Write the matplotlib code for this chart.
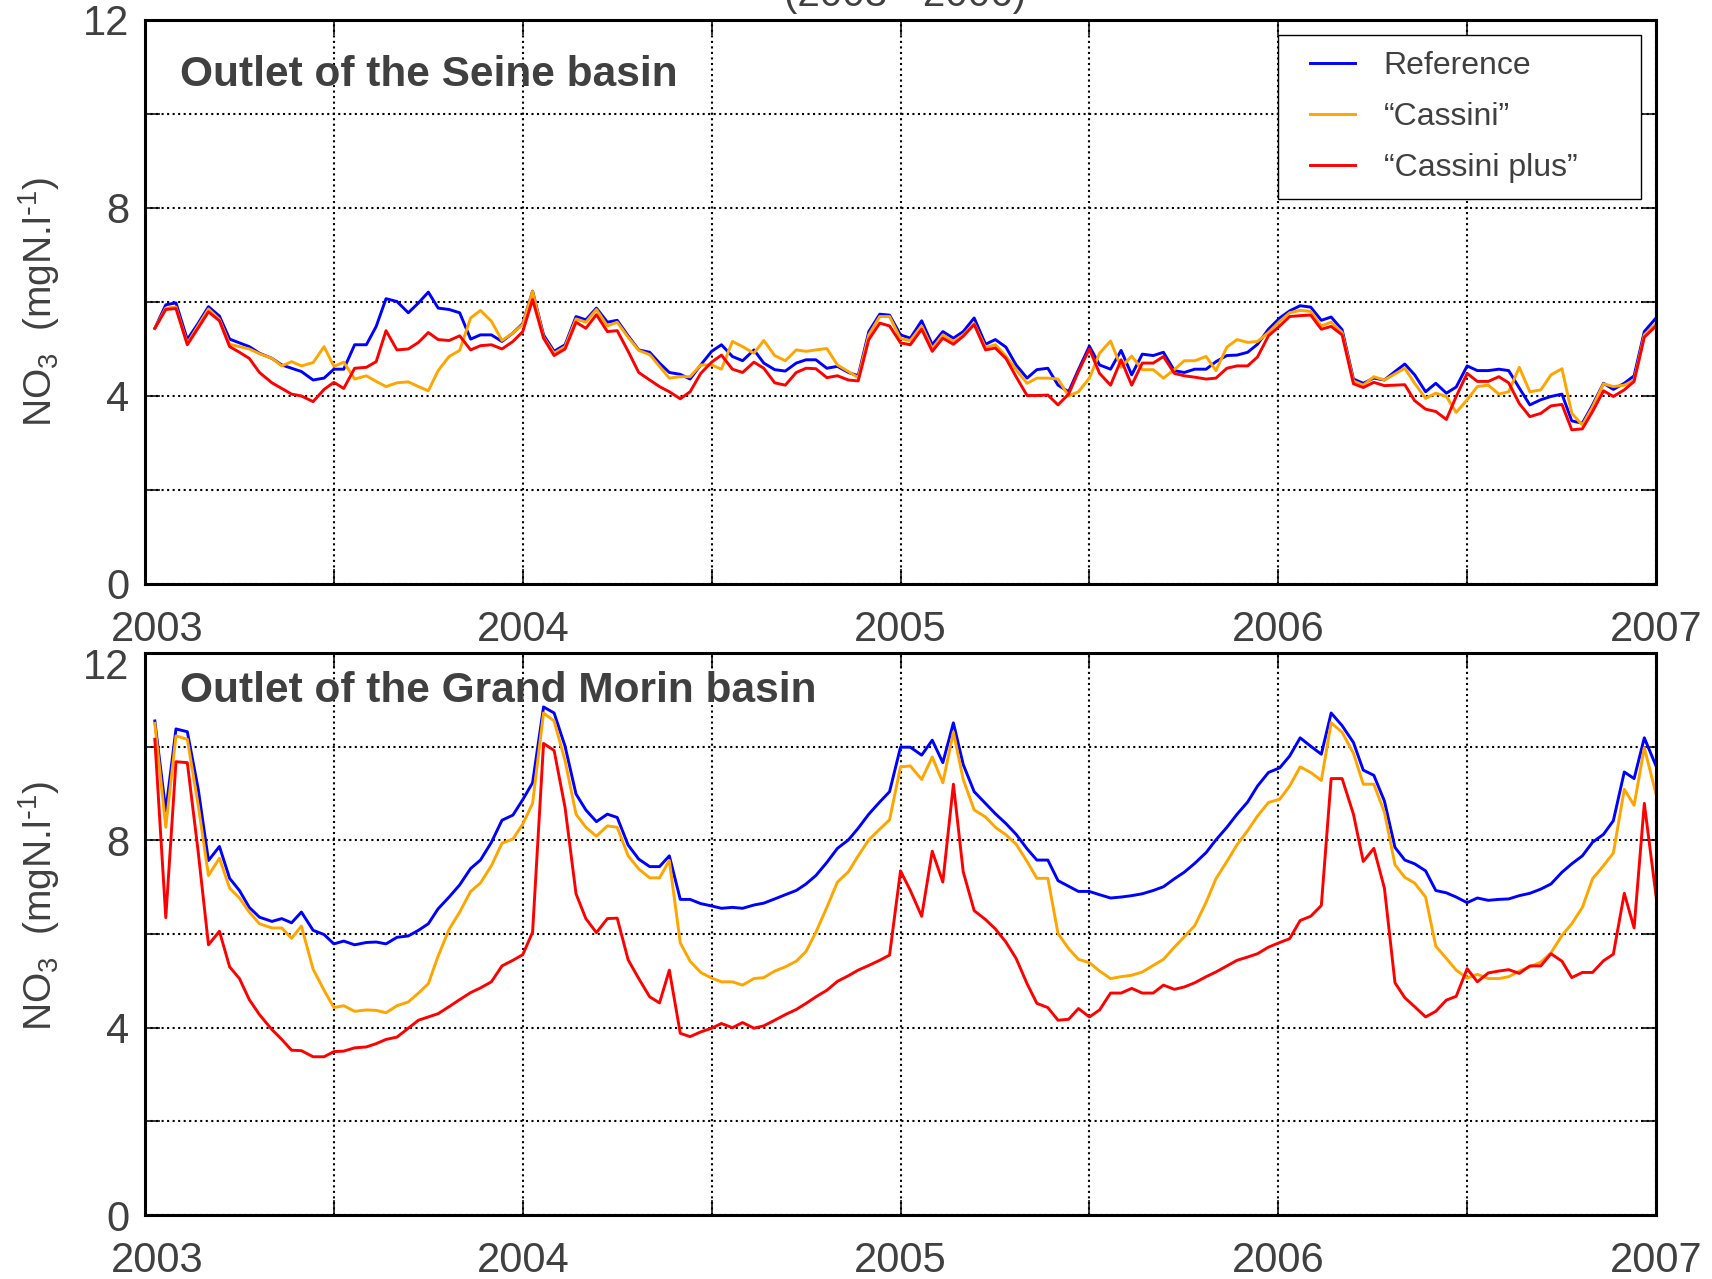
import numpy as np
import matplotlib
matplotlib.use("Agg")
import matplotlib.pyplot as plt
from matplotlib.ticker import MultipleLocator, FuncFormatter

plt.rcParams['font.family'] = ['Liberation Sans', 'DejaVu Sans']
plt.rcParams['mathtext.default'] = 'regular'

# decimal years of the simulated values (about one value every 10 days)
years = [
    2003.026, 2003.055, 2003.082, 2003.112, 2003.141, 2003.168, 2003.197, 2003.224, 2003.250, 2003.276,
    2003.303, 2003.336, 2003.362, 2003.388, 2003.414, 2003.445, 2003.474, 2003.500, 2003.526, 2003.555,
    2003.586, 2003.612, 2003.638, 2003.667, 2003.697, 2003.724, 2003.750, 2003.776, 2003.805, 2003.833,
    2003.862, 2003.888, 2003.917, 2003.945, 2003.974, 2004.000, 2004.026, 2004.055, 2004.083, 2004.112,
    2004.141, 2004.167, 2004.195, 2004.224, 2004.250, 2004.279, 2004.307, 2004.336, 2004.362, 2004.388,
    2004.417, 2004.443, 2004.471, 2004.500, 2004.526, 2004.555, 2004.582, 2004.612, 2004.638, 2004.667,
    2004.695, 2004.724, 2004.750, 2004.776, 2004.805, 2004.833, 2004.862, 2004.888, 2004.916, 2004.945,
    2004.971, 2005.000,
    2005.026, 2005.056, 2005.084, 2005.112, 2005.140, 2005.166, 2005.195, 2005.225, 2005.251, 2005.279,
    2005.306, 2005.335, 2005.361, 2005.390, 2005.417, 2005.445, 2005.471, 2005.500, 2005.527, 2005.556,
    2005.584, 2005.612, 2005.640, 2005.669, 2005.696, 2005.725, 2005.751, 2005.779, 2005.809, 2005.835,
    2005.864, 2005.891, 2005.919, 2005.945, 2005.974, 2006.004, 2006.030, 2006.058, 2006.086, 2006.114,
    2006.140, 2006.169, 2006.199, 2006.225, 2006.253, 2006.281, 2006.309, 2006.335, 2006.361, 2006.390,
    2006.417, 2006.445, 2006.471, 2006.500, 2006.527, 2006.556, 2006.584, 2006.610, 2006.638, 2006.666,
    2006.695, 2006.722, 2006.751, 2006.777, 2006.805, 2006.832, 2006.861, 2006.887, 2006.916, 2006.942,
    2006.969, 2007.000,
]

# Outlet of the Seine basin
seine_ref = [
    5.44, 5.94, 5.98, 5.2, 5.55, 5.9, 5.7, 5.21, 5.13, 5.05, 4.91, 4.8, 4.66, 4.59, 4.52, 4.34, 4.38, 4.57, 4.57, 5.09,
    5.09, 5.48, 6.07, 6.01, 5.77, 5.98, 6.21, 5.87, 5.84, 5.77, 5.21, 5.3, 5.3, 5.16, 5.34, 5.54, 6.23, 5.3, 4.95, 5.09,
    5.69, 5.62, 5.87, 5.57, 5.61, 5.28, 4.98, 4.93, 4.7, 4.5, 4.46, 4.36, 4.66, 4.95, 5.09, 4.84, 4.75, 4.98, 4.7, 4.56,
    4.53, 4.7, 4.77, 4.77, 4.59, 4.63, 4.5, 4.43, 5.37, 5.74, 5.72, 5.3,
    5.23, 5.6, 5.09, 5.37, 5.23, 5.37, 5.66, 5.1, 5.2, 5.04, 4.66, 4.38, 4.56, 4.59, 4.23, 4.09, 4.56, 5.06, 4.66, 4.57,
    4.97, 4.45, 4.89, 4.86, 4.93, 4.54, 4.5, 4.57, 4.57, 4.73, 4.86, 4.87, 4.93, 5.1, 5.42, 5.66, 5.81, 5.92, 5.89, 5.61,
    5.68, 5.41, 4.36, 4.27, 4.38, 4.34, 4.52, 4.68, 4.45, 4.09, 4.27, 4.06, 4.19, 4.64, 4.54, 4.54, 4.57, 4.54, 4.17, 3.81,
    3.92, 3.99, 4.04, 3.47, 3.42, 3.81, 4.27, 4.14, 4.27, 4.43, 5.37, 5.66,
]
seine_cassini = [
    5.44, 5.87, 5.89, 5.12, 5.5, 5.85, 5.63, 5.1, 5.05, 5.0, 4.9, 4.8, 4.64, 4.73, 4.64, 4.71, 5.05, 4.63, 4.72, 4.36,
    4.43, 4.31, 4.2, 4.28, 4.3, 4.2, 4.11, 4.54, 4.84, 4.97, 5.66, 5.82, 5.59, 5.18, 5.34, 5.52, 6.23, 5.25, 4.91, 5.05,
    5.64, 5.57, 5.84, 5.49, 5.57, 5.25, 4.97, 4.88, 4.63, 4.38, 4.41, 4.41, 4.66, 4.66, 4.57, 5.16, 5.05, 4.91, 5.18, 4.86,
    4.75, 4.98, 4.95, 4.98, 5.01, 4.66, 4.52, 4.39, 5.3, 5.69, 5.69, 5.22,
    5.18, 5.49, 5.01, 5.3, 5.16, 5.3, 5.54, 5.03, 5.09, 4.85, 4.56, 4.27, 4.38, 4.38, 4.36, 4.0, 4.09, 4.38, 4.91, 5.17,
    4.61, 4.85, 4.56, 4.56, 4.38, 4.56, 4.75, 4.75, 4.84, 4.54, 5.04, 5.2, 5.14, 5.16, 5.35, 5.59, 5.77, 5.82, 5.8, 5.49,
    5.57, 5.35, 4.32, 4.23, 4.41, 4.34, 4.47, 4.59, 4.27, 3.95, 4.06, 3.99, 3.65, 3.92, 4.2, 4.23, 4.04, 4.09, 4.61, 4.09,
    4.13, 4.45, 4.58, 3.63, 3.38, 3.77, 4.26, 4.2, 4.23, 4.34, 5.3, 5.54,
]
seine_plus = [
    5.44, 5.84, 5.86, 5.09, 5.45, 5.79, 5.6, 5.05, 4.93, 4.8, 4.5, 4.28, 4.16, 4.04, 4.0, 3.88, 4.14, 4.29, 4.16, 4.59,
    4.61, 4.73, 5.39, 4.98, 5.0, 5.14, 5.35, 5.2, 5.18, 5.28, 4.98, 5.07, 5.09, 5.0, 5.16, 5.37, 6.05, 5.23, 4.86, 5.0,
    5.57, 5.44, 5.73, 5.37, 5.39, 4.95, 4.5, 4.34, 4.2, 4.09, 3.94, 4.09, 4.48, 4.72, 4.87, 4.57, 4.5, 4.72, 4.59, 4.28,
    4.23, 4.5, 4.59, 4.58, 4.39, 4.43, 4.34, 4.32, 5.2, 5.55, 5.49, 5.13,
    5.09, 5.42, 4.95, 5.23, 5.1, 5.27, 5.52, 4.98, 5.02, 4.8, 4.41, 4.01, 4.01, 4.02, 3.81, 4.04, 4.52, 5.0, 4.48, 4.23,
    4.77, 4.23, 4.7, 4.7, 4.84, 4.48, 4.43, 4.4, 4.36, 4.38, 4.59, 4.64, 4.64, 4.83, 5.28, 5.49, 5.69, 5.71, 5.72, 5.42,
    5.48, 5.3, 4.26, 4.18, 4.29, 4.22, 4.23, 4.24, 3.9, 3.72, 3.67, 3.5, 3.99, 4.48, 4.31, 4.31, 4.41, 4.28, 3.84, 3.56,
    3.63, 3.79, 3.82, 3.28, 3.3, 3.67, 4.11, 3.99, 4.13, 4.31, 5.25, 5.49,
]

# Outlet of the Grand Morin basin
morin_ref = [
    10.55, 8.63, 10.38, 10.32, 9.09, 7.57, 7.87, 7.19, 6.93, 6.57, 6.36, 6.27, 6.33, 6.24, 6.47, 6.08, 5.99, 5.79, 5.85, 5.77,
    5.82, 5.83, 5.79, 5.93, 5.96, 6.08, 6.22, 6.54, 6.79, 7.05, 7.4, 7.58, 7.96, 8.43, 8.54, 8.87, 9.23, 10.85, 10.72, 10.01,
    8.99, 8.65, 8.4, 8.56, 8.49, 7.9, 7.6, 7.44, 7.44, 7.67, 6.74, 6.74, 6.65, 6.6, 6.55, 6.57, 6.55, 6.62, 6.66, 6.75,
    6.84, 6.93, 7.07, 7.25, 7.53, 7.83, 8.01, 8.26, 8.56, 8.82, 9.04, 9.99,
    9.99, 9.82, 10.14, 9.66, 10.51, 9.62, 9.04, 8.79, 8.57, 8.36, 8.13, 7.82, 7.58, 7.58, 7.14, 7.02, 6.91, 6.91, 6.84, 6.77,
    6.79, 6.82, 6.86, 6.93, 7.01, 7.18, 7.32, 7.51, 7.74, 8.01, 8.28, 8.56, 8.82, 9.16, 9.45, 9.55, 9.8, 10.19, 10.01, 9.84,
    10.72, 10.45, 10.09, 9.5, 9.39, 8.84, 7.85, 7.58, 7.5, 7.35, 6.93, 6.88, 6.79, 6.67, 6.77, 6.72, 6.74, 6.75, 6.82, 6.87,
    6.96, 7.07, 7.32, 7.5, 7.67, 7.96, 8.13, 8.42, 9.46, 9.32, 10.19, 9.59,
]
morin_cassini = [
    10.5, 8.28, 10.23, 10.16, 8.74, 7.25, 7.62, 6.98, 6.77, 6.47, 6.22, 6.13, 6.13, 5.91, 6.17, 5.25, 4.8, 4.43, 4.47, 4.35,
    4.38, 4.37, 4.32, 4.47, 4.55, 4.74, 4.94, 5.53, 6.1, 6.47, 6.91, 7.09, 7.46, 7.94, 8.03, 8.35, 8.79, 10.72, 10.55, 9.7,
    8.56, 8.28, 8.09, 8.31, 8.28, 7.67, 7.39, 7.2, 7.2, 7.57, 5.81, 5.42, 5.18, 5.06, 4.98, 4.98, 4.91, 5.05, 5.07, 5.21,
    5.3, 5.42, 5.63, 6.04, 6.57, 7.11, 7.33, 7.67, 8.01, 8.24, 8.44, 9.57,
    9.59, 9.3, 9.78, 9.23, 10.31, 9.3, 8.65, 8.5, 8.28, 8.12, 7.92, 7.55, 7.19, 7.19, 6.01, 5.69, 5.46, 5.39, 5.21, 5.05,
    5.09, 5.12, 5.19, 5.33, 5.46, 5.72, 5.94, 6.18, 6.68, 7.18, 7.55, 7.91, 8.21, 8.52, 8.81, 8.88, 9.16, 9.57, 9.45, 9.28,
    10.51, 10.31, 9.86, 9.2, 9.2, 8.6, 7.48, 7.21, 7.09, 6.79, 5.74, 5.48, 5.23, 5.06, 5.14, 5.05, 5.05, 5.09, 5.21, 5.3,
    5.4, 5.6, 5.97, 6.22, 6.57, 7.18, 7.46, 7.73, 9.09, 8.75, 9.98, 8.99,
]
morin_plus = [
    10.16, 6.35, 9.68, 9.66, 7.74, 5.77, 6.06, 5.3, 5.05, 4.6, 4.28, 3.96, 3.75, 3.52, 3.51, 3.38, 3.38, 3.49, 3.5, 3.57,
    3.59, 3.66, 3.75, 3.8, 3.99, 4.16, 4.23, 4.3, 4.45, 4.6, 4.75, 4.85, 4.98, 5.32, 5.44, 5.56, 6.04, 10.07, 9.92, 8.7,
    6.86, 6.33, 6.03, 6.33, 6.34, 5.45, 5.05, 4.66, 4.53, 5.23, 3.88, 3.81, 3.91, 3.99, 4.09, 4.0, 4.11, 3.99, 4.04, 4.16,
    4.28, 4.39, 4.52, 4.66, 4.8, 4.99, 5.11, 5.23, 5.33, 5.44, 5.55, 7.35,
    6.93, 6.38, 7.77, 7.11, 9.2, 7.33, 6.5, 6.31, 6.11, 5.83, 5.48, 4.94, 4.52, 4.43, 4.16, 4.18, 4.41, 4.23, 4.38, 4.74,
    4.74, 4.84, 4.74, 4.74, 4.91, 4.82, 4.87, 4.96, 5.09, 5.19, 5.32, 5.44, 5.51, 5.58, 5.72, 5.82, 5.9, 6.29, 6.38, 6.61,
    9.32, 9.32, 8.56, 7.55, 7.83, 6.98, 4.96, 4.64, 4.45, 4.23, 4.35, 4.59, 4.67, 5.26, 4.98, 5.17, 5.21, 5.24, 5.16, 5.32,
    5.32, 5.58, 5.42, 5.07, 5.18, 5.18, 5.43, 5.57, 6.87, 6.13, 8.79, 6.82,
]

labels = ["Reference", "\u201cCassini\u201d", "\u201cCassini plus\u201d"]
colors = ["#0000ff", "#ffa500", "#ff0000"]
gray = "#404040"
first_year = 2003
y_top = 12

fig = plt.figure(figsize=(17.12, 12.79), dpi=100)
ax1 = fig.add_axes([0.0847, 0.5434, 0.8826, 0.441])
ax2 = fig.add_axes([0.0847, 0.05, 0.8826, 0.4394])

# title of the whole figure, cut by the upper edge as in the original
fig.text(0.5288, 0.995, "(2003 - 2006)", fontsize=29, color=gray,
         ha="center", va="baseline")


def year_label(v, pos):
    # the first year is written separately, slightly shifted to the right
    if abs(v - round(v)) < 1e-6 and round(v) != first_year:
        return "%d" % round(v)
    return ""


def conc_label(v, pos):
    if abs(v % 4) < 1e-6:
        return "%d" % round(v)
    return ""


def conc_label_low(v, pos):
    # lower panel: the top value is written separately, a bit lower
    if abs(v - y_top) < 1e-6:
        return ""
    return conc_label(v, pos)


panels = [
    (ax1, "Outlet of the Seine basin", 0.903, 0.5, [seine_ref, seine_cassini, seine_plus], conc_label),
    (ax2, "Outlet of the Grand Morin basin", 0.932, 0.55, [morin_ref, morin_cassini, morin_plus], conc_label_low),
]

for ax, title, ty, ly, series, yfmt in panels:
    for vals, c, lab in zip(series, colors, labels):
        ax.plot(years, vals, color=c, linewidth=2.1, label=lab)
    ax.set_xlim(2003, 2007)
    ax.set_ylim(0, y_top)
    ax.xaxis.set_major_locator(MultipleLocator(0.5))
    ax.yaxis.set_major_locator(MultipleLocator(2))
    ax.xaxis.set_major_formatter(FuncFormatter(year_label))
    ax.yaxis.set_major_formatter(FuncFormatter(yfmt))
    ax.grid(True, linestyle=":", color="black", linewidth=1.5)
    ax.tick_params(direction="in", length=11, width=1.1, top=True, right=True,
                   labelsize=30, labelcolor=gray)
    ax.tick_params(axis="x", pad=19)
    ax.tick_params(axis="y", pad=11)
    for sp in ax.spines.values():
        sp.set_linewidth(2.2)
        sp.set_color("black")
    ax.set_ylabel(r"NO$_3$  (mgN.l$^{\text{-}1}$)", fontsize=28, color=gray)
    ax.yaxis.set_label_coords(-0.055, ly)
    ax.text(0.023, ty, title, transform=ax.transAxes, fontsize=30.5,
            fontweight="bold", color=gray, va="center")
    ax.annotate(str(first_year), xy=(first_year, 0), xycoords=("data", "axes fraction"),
                xytext=(8.5, -19), textcoords="offset points", ha="center", va="top",
                fontsize=30, color=gray, annotation_clip=False)

ax2.annotate(str(y_top), xy=(0, y_top), xycoords=("axes fraction", "data"),
             xytext=(-11, -11), textcoords="offset points", ha="right", va="center",
             fontsize=30, color=gray, annotation_clip=False)

leg = ax1.legend(loc="upper left", bbox_to_anchor=(0.750, 0.0, 0.240, 0.973),
                 mode="expand", borderaxespad=0, fontsize=23, frameon=True,
                 fancybox=False, framealpha=1, edgecolor="black",
                 handlelength=1.9, handletextpad=0.9, labelspacing=0.65,
                 borderpad=0.5, labelcolor=gray)
leg.get_frame().set_linewidth(1.0)
for ln in leg.get_lines():
    xd = np.asarray(ln.get_xdata(), dtype=float)
    ln.set_xdata(np.linspace(xd.min() + 0.5 * 23, xd.max(), len(xd)))

fig.savefig("out.png", dpi=100)
